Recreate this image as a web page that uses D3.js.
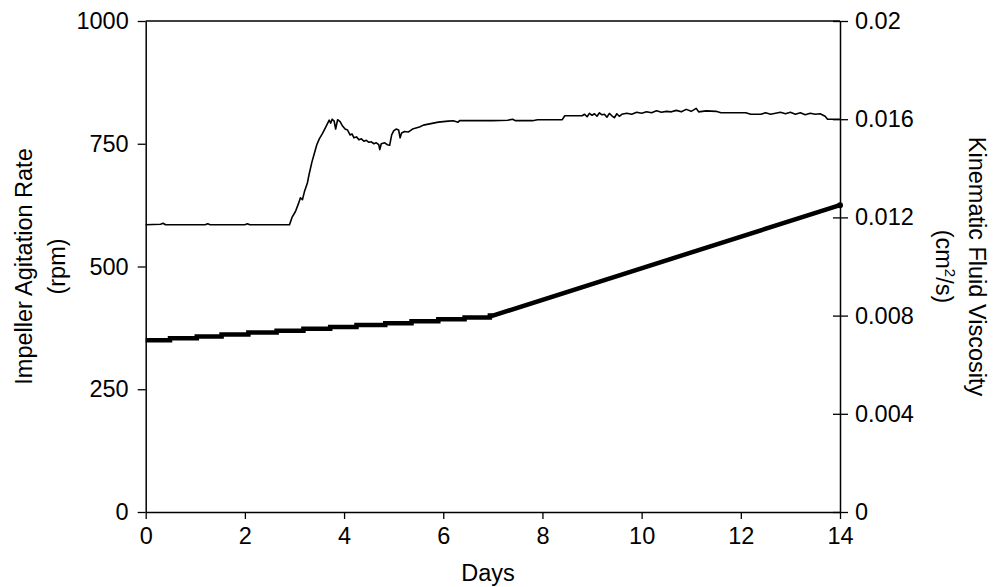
<!DOCTYPE html>
<html>
<head>
  <meta charset="UTF-8">
  <style>
    body { margin: 0; background: #fff; }
    svg { font-family: "Liberation Sans", Arial, sans-serif; }
  </style>
</head>
<body>
<svg></svg>
<script src="https://d3js.org/d3.v7.min.js"></script>

<script>

let width = 998, height = 587;

// axis ticks
const dayTicks = [0, 2, 4, 6, 8, 10, 12, 14];
const rpmTicks = [0, 250, 500, 750, 1000];
const viscTicks = [0, 0.004, 0.008, 0.012, 0.016, 0.02];
const viscTickLabels = ["0", "0.004", "0.008", "0.012", "0.016", "0.02"];

// impeller agitation rate (rpm) vs days
const rpmDays = [0, 0.3, 0.35, 0.4, 1.2, 1.25, 1.3, 2.0, 2.05, 2.1, 2.9, 2.95, 3.02, 3.08, 3.12, 3.16,
  3.2, 3.26, 3.3, 3.35, 3.4, 3.45, 3.5, 3.56, 3.62, 3.66, 3.7, 3.73, 3.76, 3.8, 3.83, 3.87, 3.92,
  3.97, 4.02, 4.07, 4.12, 4.16, 4.2, 4.25, 4.3, 4.35, 4.4, 4.45, 4.5, 4.55, 4.6, 4.65, 4.7, 4.72,
  4.75, 4.82, 4.87, 4.92, 4.96, 5.0, 5.05, 5.1, 5.13, 5.16, 5.22, 5.3, 5.38, 5.45, 5.52, 5.6, 5.7,
  5.8, 5.9, 6.0, 6.1, 6.2, 6.3, 6.33, 6.6, 7.0, 7.3, 7.4, 7.45, 7.8, 7.9, 8.4, 8.45, 8.8, 8.85,
  8.9, 8.95, 9.0, 9.05, 9.1, 9.15, 9.2, 9.25, 9.3, 9.35, 9.4, 9.45, 9.5, 9.55, 9.6, 9.7, 9.8, 9.9,
  10.0, 10.1, 10.2, 10.3, 10.4, 10.5, 10.6, 10.7, 10.8, 10.9, 11.0, 11.1, 11.15, 11.3, 11.5, 11.6,
  11.9, 12.1, 12.2, 12.4, 12.5, 12.6, 12.8, 12.9, 13.0, 13.1, 13.2, 13.3, 13.4, 13.5, 13.6, 13.7,
  13.75, 14.0];
const rpmValues = [585, 586, 588, 585, 585, 587, 585, 585, 587, 585, 585, 600, 612, 628, 640, 636,
  652, 670, 690, 712, 730, 748, 760, 770, 782, 790, 798, 792, 800, 796, 780, 799, 795,
  786, 780, 778, 768, 770, 762, 764, 758, 760, 755, 757, 753, 754, 750, 752, 748, 738,
  750, 752, 748, 747, 768, 776, 780, 778, 762, 772, 775, 774, 780, 782, 784, 788, 790,
  792, 794, 795, 796, 797, 794, 797, 797, 797, 798, 800, 797, 797, 799, 799, 807, 807, 810,
  805, 812, 808, 811, 806, 813, 809, 810, 804, 812, 807, 803, 811, 806, 810, 812, 810, 814,
  812, 815, 813, 817, 814, 816, 815, 818, 815, 820, 816, 822, 815, 817, 816, 813,
  813, 813, 810, 810, 813, 810, 814, 811, 814, 810, 813, 809, 812, 810, 811, 806,
  800, 800];

// kinematic fluid viscosity (cm2/s): stepped part, then linear ramp
const stepDays = [0, 0.49, 1.03, 1.53, 2.07, 2.64, 3.18, 3.72, 4.25, 4.83, 5.36, 5.90, 6.43, 6.94, 7.0];
const stepValues = [0.00700, 0.00708, 0.00715, 0.00723, 0.00731, 0.00738, 0.00746, 0.00754,
  0.00762, 0.00769, 0.00777, 0.00785, 0.00792, 0.00800, 0.00800];
const rampDays = [7.0, 14.0];
const rampValues = [0.00800, 0.01250];

let svg = d3.select("svg")
    .attr("width", width)
    .attr("height", height);

const plotLeft = 145.7, plotRight = 840, plotTop = 21, plotBottom = 512;

const x = d3.scaleLinear().domain([0, 14]).range([plotLeft, plotRight]);
const yL = d3.scaleLinear().domain([0, 1000]).range([plotBottom, plotTop]);
const yR = d3.scaleLinear().domain([0, 0.02]).range([plotBottom, plotTop]);

const fontSize = "23.5px";

// frame top line
svg.append("line")
    .attr("x1", plotLeft).attr("x2", plotRight)
    .attr("y1", plotTop).attr("y2", plotTop)
    .attr("stroke", "#000").attr("stroke-width", 1.5);

// bottom axis
svg.append("g")
    .attr("transform", "translate(0," + plotBottom + ")")
    .call(d3.axisBottom(x).tickValues(dayTicks).tickSize(7).tickSizeOuter(0).tickPadding(8))
    .call(g => g.select(".domain").attr("stroke-width", 1.5))
    .call(g => g.selectAll(".tick line").attr("stroke-width", 1.3))
    .call(g => g.selectAll("text").style("font-size", fontSize).attr("fill", "#000"));

// left axis
svg.append("g")
    .attr("transform", "translate(" + plotLeft + ",0)")
    .call(d3.axisLeft(yL).tickValues(rpmTicks).tickFormat(d3.format("d"))
        .tickSize(8).tickSizeOuter(0).tickPadding(9))
    .call(g => g.select(".domain").attr("stroke-width", 1.5))
    .call(g => g.selectAll(".tick line").attr("stroke-width", 1.3))
    .call(g => g.selectAll("text").style("font-size", fontSize).attr("fill", "#000"));

// right axis, ticks crossing the line
svg.append("g")
    .attr("transform", "translate(" + plotRight + ",0)")
    .call(d3.axisRight(yR).tickValues(viscTicks).tickFormat((d, i) => viscTickLabels[i])
        .tickSize(8).tickSizeOuter(0).tickPadding(7))
    .call(g => g.select(".domain").attr("stroke-width", 1.5))
    .call(g => g.selectAll(".tick line").attr("x1", -7).attr("stroke-width", 1.3))
    .call(g => g.selectAll("text").style("font-size", fontSize).attr("fill", "#000"));

// rpm trace
const rpmData = rpmDays.map((d, i) => [d, rpmValues[i]]);
svg.append("path")
    .datum(rpmData)
    .attr("fill", "none")
    .attr("stroke", "#000")
    .attr("stroke-width", 1.6)
    .attr("stroke-linejoin", "round")
    .attr("d", d3.line().x(d => x(d[0])).y(d => yL(d[1])));

// viscosity: stepped part
const stepData = stepDays.map((d, i) => [d, stepValues[i]]);
svg.append("path")
    .datum(stepData)
    .attr("fill", "none")
    .attr("stroke", "#000")
    .attr("stroke-width", 4.5)
    .attr("d", d3.line().curve(d3.curveStepAfter).x(d => x(d[0])).y(d => yR(d[1])));

// viscosity: ramp
const rampData = rampDays.map((d, i) => [d, rampValues[i]]);
svg.append("path")
    .datum(rampData)
    .attr("fill", "none")
    .attr("stroke", "#000")
    .attr("stroke-width", 4.5)
    .attr("stroke-linecap", "round")
    .attr("d", d3.line().x(d => x(d[0])).y(d => yR(d[1])));

svg.append("circle")
    .attr("cx", x(rampDays[rampDays.length - 1]))
    .attr("cy", yR(rampValues[rampValues.length - 1]))
    .attr("r", 3)
    .attr("fill", "#000");

// axis titles
svg.append("text")
    .attr("x", 488).attr("y", 581)
    .attr("text-anchor", "middle")
    .style("font-size", fontSize)
    .text("Days");

const midY = (plotTop + plotBottom) / 2;

svg.append("g")
    .attr("transform", "translate(32," + midY + ") rotate(-90)")
    .call(g => {
        g.append("text").attr("text-anchor", "middle").style("font-size", fontSize)
            .text("Impeller Agitation Rate");
        g.append("text").attr("text-anchor", "middle").attr("y", 33).style("font-size", fontSize)
            .text("(rpm)");
    });

svg.append("g")
    .attr("transform", "translate(969," + midY + ") rotate(90)")
    .call(g => {
        g.append("text").attr("text-anchor", "middle").style("font-size", fontSize)
            .text("Kinematic Fluid Viscosity");
        const t = g.append("text").attr("text-anchor", "middle").attr("y", 33).style("font-size", fontSize);
        t.append("tspan").text("(cm");
        t.append("tspan").attr("dy", -9).style("font-size", "15px").text("2");
        t.append("tspan").attr("dy", 9).text("/s)");
    });

</script>

</body>
</html>
